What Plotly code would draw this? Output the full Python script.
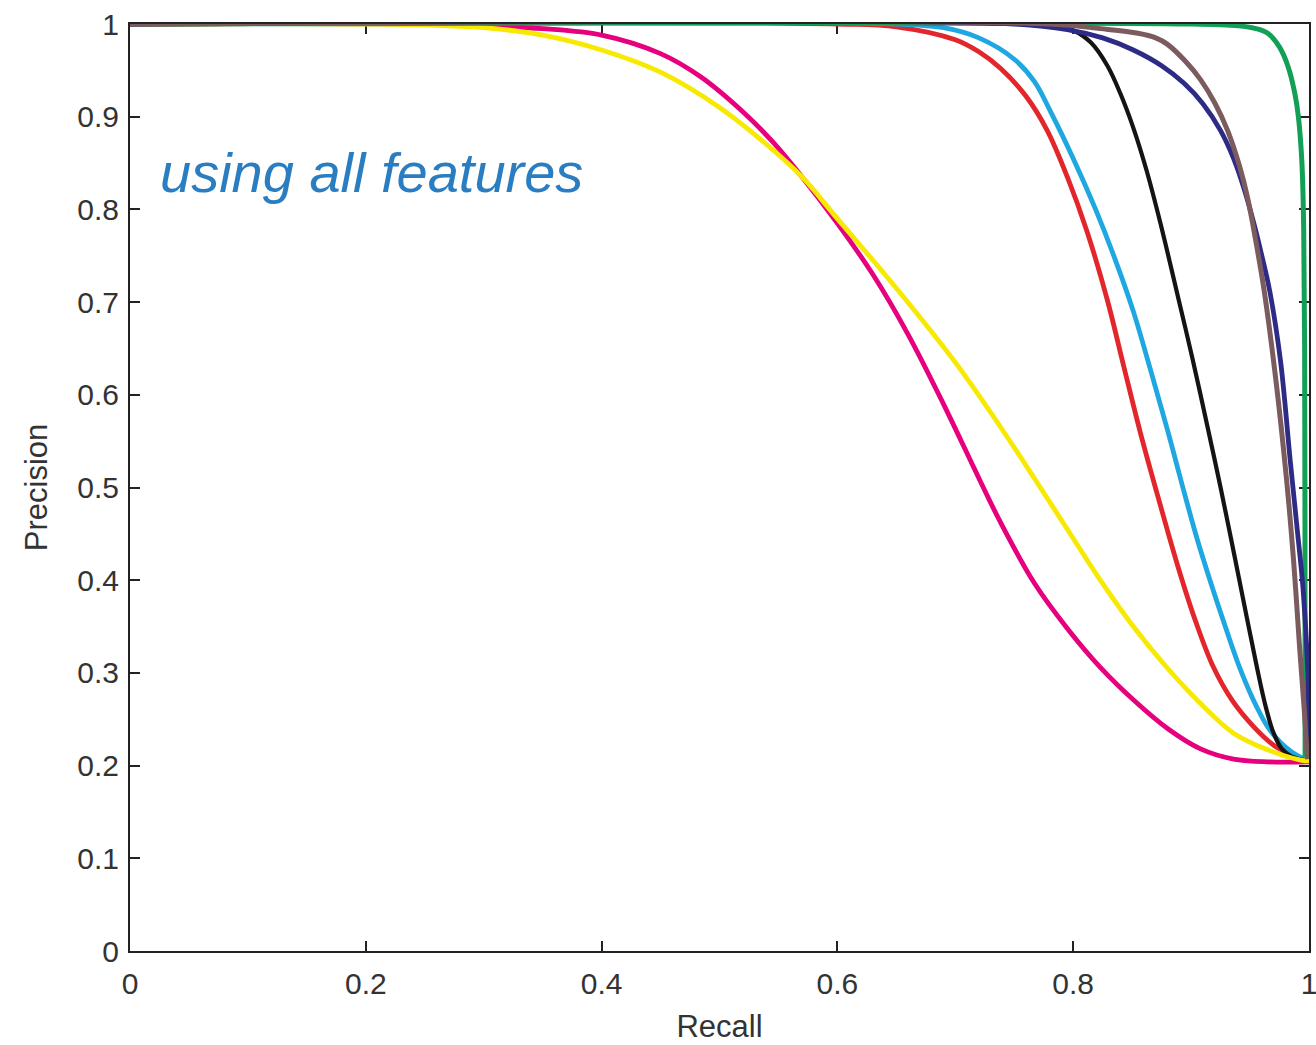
import plotly.graph_objects as go

# ---- data ----
magenta_x = [0, 0.25, 0.3, 0.35, 0.4, 0.45, 0.484, 0.52, 0.545, 0.57, 0.6, 0.63, 0.66, 0.69, 0.72, 0.7385, 0.767, 0.795, 0.823, 0.851, 0.88, 0.908, 0.936, 0.965, 1.0]
magenta_y = [1, 1, 0.998, 0.995, 0.988, 0.968, 0.943, 0.905, 0.873, 0.835, 0.785, 0.73, 0.665, 0.59, 0.51, 0.462, 0.397, 0.348, 0.306, 0.271, 0.24, 0.218, 0.207, 0.204, 0.204]

yellow_x = [0, 0.2, 0.3, 0.35, 0.4, 0.45, 0.5, 0.54, 0.57, 0.6, 0.65, 0.7, 0.7385, 0.767, 0.795, 0.823, 0.851, 0.88, 0.908, 0.936, 0.965, 0.993, 1.0]
yellow_y = [1, 1, 0.996, 0.988, 0.972, 0.948, 0.91, 0.87, 0.835, 0.79, 0.715, 0.635, 0.565, 0.51, 0.455, 0.40, 0.35, 0.305, 0.267, 0.235, 0.217, 0.206, 0.205]

red_x = [0, 0.6, 0.65, 0.7, 0.72, 0.7385, 0.76, 0.778, 0.795, 0.812, 0.829, 0.843, 0.857, 0.873, 0.889, 0.904, 0.919, 0.935, 0.953, 0.97, 0.985, 1.0]
red_y = [1, 1, 0.997, 0.983, 0.97, 0.952, 0.922, 0.885, 0.835, 0.775, 0.702, 0.63, 0.559, 0.485, 0.414, 0.355, 0.306, 0.27, 0.242, 0.222, 0.212, 0.205]

cyan_x = [0, 0.65, 0.69, 0.72, 0.75, 0.767, 0.781, 0.8, 0.819, 0.835, 0.851, 0.866, 0.88, 0.893, 0.905, 0.916, 0.929, 0.942, 0.955, 0.967, 0.985, 1.0]
cyan_y = [1, 1, 0.996, 0.985, 0.962, 0.938, 0.905, 0.855, 0.8, 0.748, 0.69, 0.625, 0.562, 0.5, 0.445, 0.4, 0.35, 0.303, 0.265, 0.238, 0.215, 0.205]

black_x = [0, 0.75, 0.78, 0.80, 0.815, 0.829, 0.84, 0.851, 0.862, 0.874, 0.889, 0.901, 0.914, 0.925, 0.937, 0.948, 0.956, 0.963, 0.970, 0.977, 0.985, 1.0]
black_y = [1, 1, 0.998, 0.993, 0.98, 0.955, 0.925, 0.888, 0.843, 0.785, 0.705, 0.64, 0.565, 0.50, 0.425, 0.355, 0.305, 0.265, 0.235, 0.218, 0.21, 0.205]

navy_x = [0, 0.75, 0.795, 0.825, 0.851, 0.875, 0.894, 0.91, 0.925, 0.936, 0.945, 0.953, 0.96, 0.967, 0.976, 0.984, 0.99, 0.995, 0.999, 1.0]
navy_y = [1, 1, 0.994, 0.985, 0.972, 0.955, 0.936, 0.914, 0.885, 0.855, 0.822, 0.786, 0.75, 0.71, 0.635, 0.53, 0.455, 0.39, 0.30, 0.21]

brown_x = [0, 0.78, 0.823, 0.855, 0.87, 0.88, 0.895, 0.908, 0.92, 0.931, 0.941, 0.948, 0.955, 0.962, 0.972, 0.981, 0.987, 0.992, 0.996, 0.998, 0.999]
brown_y = [1, 1, 0.995, 0.99, 0.985, 0.978, 0.96, 0.94, 0.915, 0.885, 0.847, 0.812, 0.765, 0.712, 0.615, 0.508, 0.42, 0.328, 0.26, 0.22, 0.207]

green_x = [0, 0.90, 0.94, 0.955, 0.965, 0.975, 0.982, 0.988, 0.991, 0.994, 0.9955, 0.9963, 0.9966, 0.9967]
green_y = [1, 1, 0.998, 0.995, 0.99, 0.975, 0.955, 0.925, 0.90, 0.85, 0.78, 0.65, 0.45, 0.209]

x_tickvals = [0, 0.2, 0.4, 0.6, 0.8, 1]
x_ticktext = ["0", "0.2", "0.4", "0.6", "0.8", "1"]
y_tickvals = [0, 0.1, 0.2, 0.3, 0.4, 0.5, 0.6, 0.7, 0.8, 0.9, 1]
y_ticktext = ["0", "0.1", "0.2", "0.3", "0.4", "0.5", "0.6", "0.7", "0.8", "0.9", "1"]

series = [
    ("red", red_x, red_y, "#e3262b", 4.8),
    ("cyan", cyan_x, cyan_y, "#1fa7e1", 4.8),
    ("black", black_x, black_y, "#141414", 4.2),
    ("magenta", magenta_x, magenta_y, "#e6007e", 4.8),
    ("yellow", yellow_x, yellow_y, "#f7ea00", 4.8),
    ("green", green_x, green_y, "#12a056", 5),
    ("navy", navy_x, navy_y, "#2e2b86", 4.8),
    ("brown", brown_x, brown_y, "#7b5b5e", 5),
]

fig = go.Figure()
for name, xs, ys, col, w in series:
    fig.add_trace(go.Scatter(
        x=xs, y=ys, mode="lines", name=name,
        line=dict(color=col, width=w, shape="spline", smoothing=1.0),
        showlegend=False, hoverinfo="skip",
    ))

tick_font = dict(family="Liberation Sans, Arial, sans-serif", size=30, color="#333333")
title_font = dict(family="Liberation Sans, Arial, sans-serif", size=31, color="#333333")

fig.update_xaxes(
    range=[0, 1], tickvals=x_tickvals, ticktext=x_ticktext,
    ticks="inside", ticklen=10, tickwidth=2, tickcolor="#222222",
    showline=True, linecolor="#222222", linewidth=2, mirror="ticks",
    showgrid=False, zeroline=False, tickfont=tick_font, automargin=False,
    ticklabeloverflow="allow",
    ticklabelstandoff=5, layer="below traces",
    title=dict(text="Recall", font=title_font, standoff=16),
)
fig.update_yaxes(
    range=[0, 1], tickvals=y_tickvals, ticktext=y_ticktext,
    ticks="inside", ticklen=10, tickwidth=2, tickcolor="#222222",
    showline=True, linecolor="#222222", linewidth=2, mirror="ticks",
    showgrid=False, zeroline=False, tickfont=tick_font, automargin=False,
    ticklabeloverflow="allow",
    ticklabelstandoff=3, layer="below traces",
    title=dict(text="Precision", font=title_font, standoff=20),
)

fig.add_annotation(
    x=0.024, y=0.84, xref="x", yref="y", xanchor="left", yanchor="middle",
    text="<i>using all features</i>", showarrow=False,
    font=dict(family="Liberation Sans, Arial, sans-serif", size=56, color="#2a7dc0"),
)

fig.update_layout(
    width=1316, height=1045,
    margin=dict(l=130, r=7, t=24, b=94),
    paper_bgcolor="white", plot_bgcolor="white",
)

fig.write_html("out.html")
